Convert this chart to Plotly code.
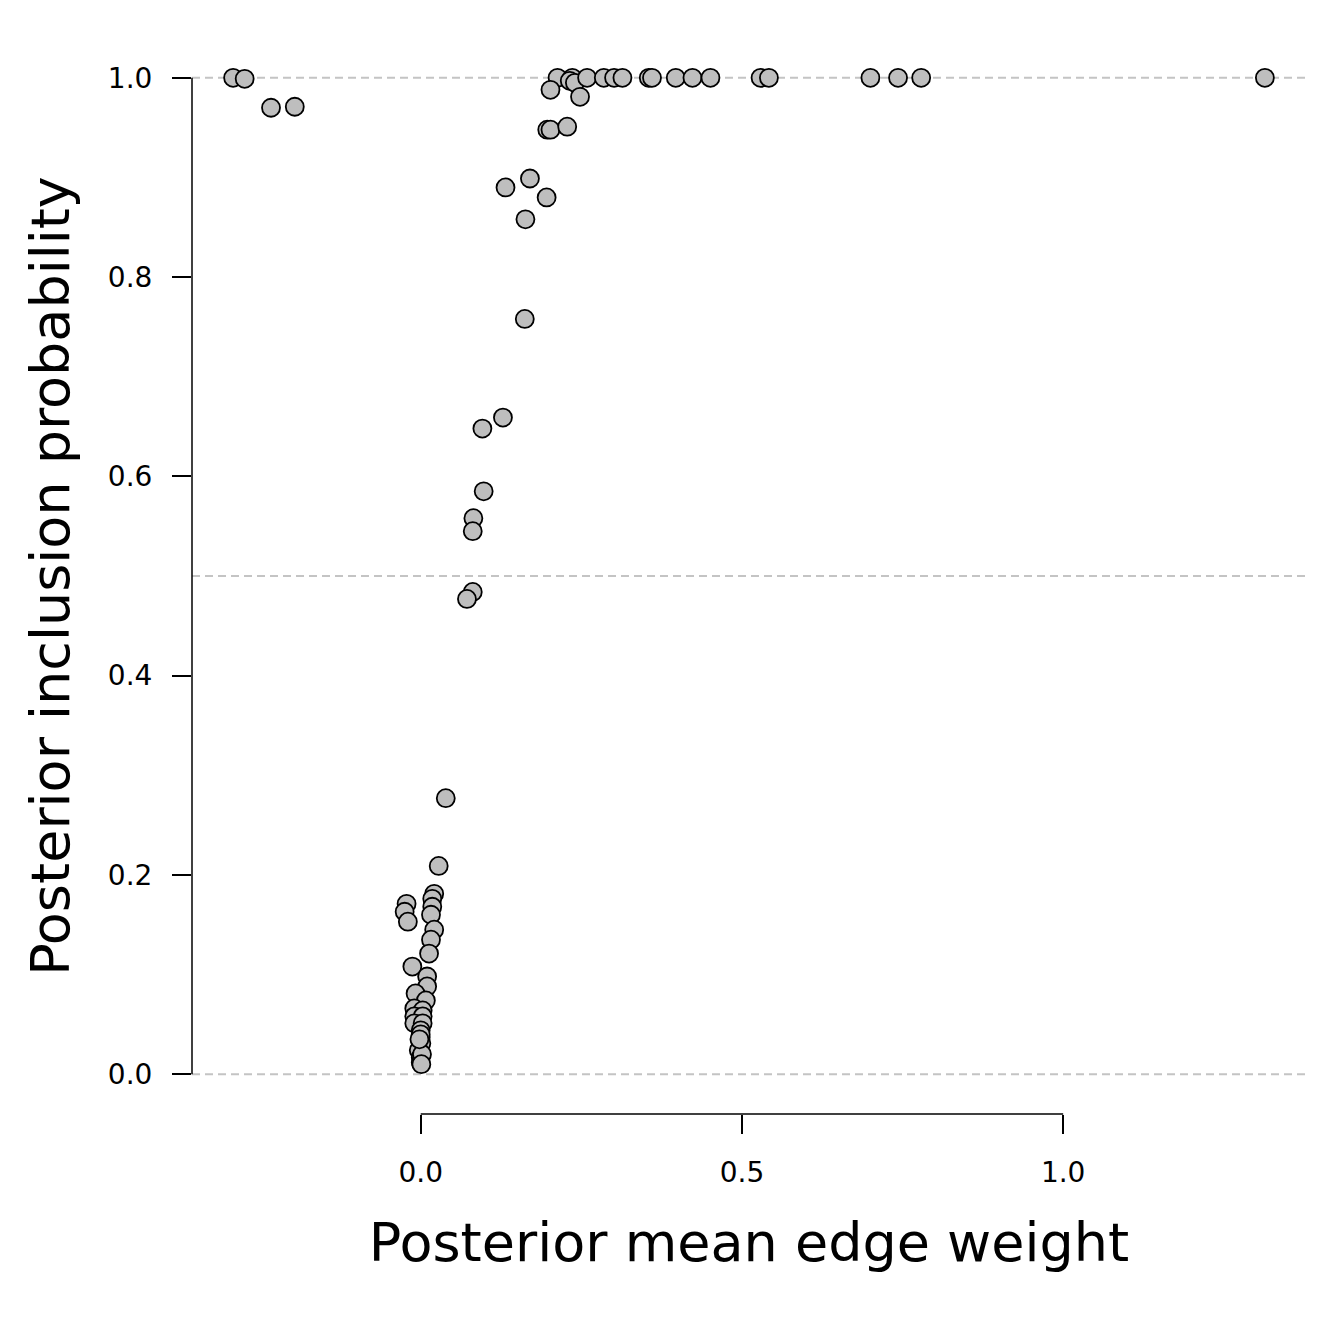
import plotly.graph_objects as go

# Posterior mean edge weight (x) and posterior inclusion probability (y)
edge_weight = [
    -0.292, -0.274, -0.233, -0.196,
    0.213, 0.236, 0.232, 0.240, 0.259, 0.285, 0.301, 0.314, 0.355, 0.360,
    0.397, 0.423, 0.451, 0.529, 0.542, 0.700, 0.743, 0.779, 1.314,
    0.248, 0.202, 0.197, 0.202, 0.228,
    0.132, 0.170, 0.196, 0.163, 0.162, 0.128, 0.096, 0.098, 0.082, 0.081,
    0.081, 0.072, 0.039, 0.028,
    0.021, 0.018, -0.022, -0.025, -0.020, 0.018, 0.016, 0.021, 0.016, 0.013,
    -0.013, 0.010, 0.010, -0.008, 0.008, -0.010, 0.003, -0.010, 0.003, -0.010,
    0.003, 0.000, 0.000, 0.001, -0.003, 0.000, 0.000, 0.000, 0.002, -0.002, 0.001,
]
inclusion_prob = [
    1.000, 0.999, 0.970, 0.971,
    1.000, 1.000, 0.997, 0.995, 1.000, 1.000, 1.000, 1.000, 1.000, 1.000,
    1.000, 1.000, 1.000, 1.000, 1.000, 1.000, 1.000, 1.000, 1.000,
    0.981, 0.988, 0.948, 0.948, 0.951,
    0.890, 0.899, 0.880, 0.858, 0.758, 0.659, 0.648, 0.585, 0.558, 0.545,
    0.484, 0.477, 0.277, 0.209,
    0.181, 0.176, 0.171, 0.163, 0.153, 0.168, 0.160, 0.145, 0.135, 0.121,
    0.108, 0.098, 0.088, 0.081, 0.074, 0.066, 0.064, 0.058, 0.058, 0.051,
    0.051, 0.044, 0.037, 0.031, 0.024, 0.017, 0.012, 0.040, 0.020, 0.035, 0.010,
]

x_ticks = [0.0, 0.5, 1.0]
x_tick_labels = ["0.0", "0.5", "1.0"]
y_ticks = [0.0, 0.2, 0.4, 0.6, 0.8, 1.0]
y_tick_labels = ["0.0", "0.2", "0.4", "0.6", "0.8", "1.0"]
ref_lines = [0.0, 0.5, 1.0]

FONT = "DejaVu Sans"

fig = go.Figure()

for h in ref_lines:
    fig.add_shape(type="line", xref="paper", yref="y", x0=0, x1=1, y0=h, y1=h,
                  line=dict(color="#c4c4c4", width=2, dash="8px,5px"), layer="below")

# Axis lines spanning only the tick range (R-style)
fig.add_shape(type="line", xref="x", yref="paper", x0=x_ticks[0], x1=x_ticks[-1], y0=0, y1=0,
              line=dict(color="black", width=1.5))
fig.add_shape(type="line", xref="paper", yref="y", x0=0, x1=0, y0=y_ticks[0], y1=y_ticks[-1],
              line=dict(color="black", width=1.5))

fig.add_trace(go.Scatter(
    x=edge_weight, y=inclusion_prob, mode="markers",
    marker=dict(size=18, color="#bebebe", line=dict(color="black", width=1.8)),
    hoverinfo="x+y", showlegend=False,
))

fig.update_layout(
    width=1344, height=1344,
    margin=dict(l=192, r=38, t=38, b=230),
    plot_bgcolor="white", paper_bgcolor="white",
    font=dict(family=FONT, color="black"),
    xaxis=dict(
        range=[-0.356, 1.378], showgrid=False, zeroline=False, showline=False,
        tickmode="array", tickvals=x_ticks, ticktext=x_tick_labels,
        ticks="outside", ticklen=19, tickwidth=1.5, tickcolor="black",
        tickfont=dict(size=28, family=FONT, color="black"),
        ticklabelstandoff=14,
        title=dict(text="Posterior mean edge weight", font=dict(size=54, family=FONT), standoff=35),
    ),
    yaxis=dict(
        range=[-0.04, 1.04], showgrid=False, zeroline=False, showline=False,
        tickmode="array", tickvals=y_ticks, ticktext=y_tick_labels,
        ticks="outside", ticklen=19, tickwidth=1.5, tickcolor="black",
        tickfont=dict(size=28, family=FONT, color="black"),
        ticklabelstandoff=14,
        title=dict(text="Posterior inclusion probability", font=dict(size=54, family=FONT), standoff=20),
    ),
)

fig.write_html("out.html")
